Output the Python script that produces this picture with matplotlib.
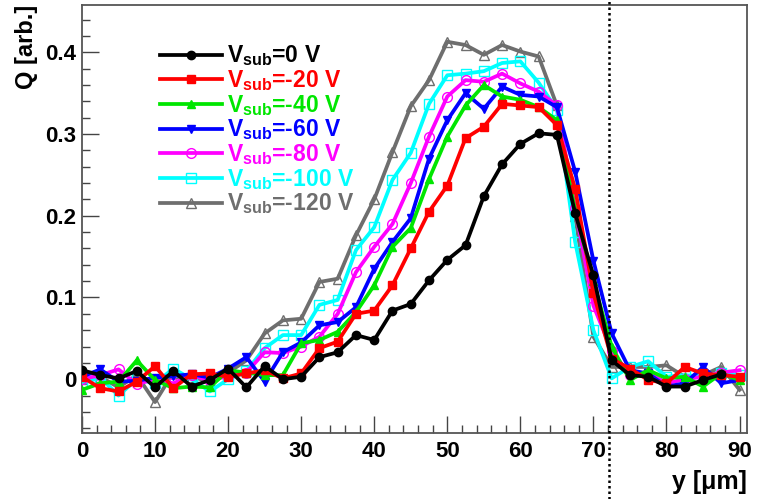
import numpy as np
import matplotlib
matplotlib.use('Agg')
import matplotlib.pyplot as plt
from matplotlib.ticker import MultipleLocator, FuncFormatter
import matplotlib.transforms as mtransforms

plt.rcParams['font.family'] = 'Liberation Sans'
plt.rcParams['font.weight'] = 'bold'
plt.rcParams['mathtext.fontset'] = 'custom'
plt.rcParams['mathtext.rm'] = 'Liberation Sans:bold'
plt.rcParams['mathtext.it'] = 'Liberation Sans:bold'
plt.rcParams['mathtext.bf'] = 'Liberation Sans:bold'
plt.rcParams['mathtext.default'] = 'rm'

# position along y [um]
pos = np.arange(0, 90.1, 2.5)

# charge for each substrate voltage
q_0 = [0.011, 0.005, 0.001, 0.010, -0.010, 0.010, -0.009, -0.001, 0.013, -0.010,
       0.016, 0.000, 0.003, 0.027, 0.033, 0.054, 0.048, 0.084, 0.092, 0.121,
       0.146, 0.164, 0.224, 0.263, 0.288, 0.301, 0.299, 0.203, 0.127, 0.023,
       0.005, 0.003, -0.009, -0.009, -0.001, 0.006, np.nan]
q_20 = [0.003, -0.011, -0.015, -0.003, 0.016, -0.011, 0.006, 0.007, 0.003, 0.007,
        0.011, 0.001, 0.007, 0.038, 0.046, 0.080, 0.084, 0.115, 0.160, 0.205,
        0.237, 0.295, 0.309, 0.337, 0.335, 0.333, 0.311, 0.233, 0.105, 0.025,
        0.013, -0.001, -0.005, 0.015, 0.007, 0.005, 0.003]
q_40 = [-0.013, -0.005, -0.003, 0.023, -0.001, -0.011, -0.009, -0.010, 0.011, 0.008,
        0.005, 0.005, 0.044, 0.048, 0.058, 0.082, 0.115, 0.162, 0.185, 0.245,
        0.297, 0.335, 0.360, 0.346, 0.342, 0.333, 0.317, 0.207, 0.120, 0.040,
        -0.001, 0.011, 0.001, 0.003, -0.009, 0.007, -0.001]
q_60 = [0.003, 0.012, -0.003, -0.002, 0.002, 0.004, 0.006, 0.002, 0.013, 0.027,
        -0.003, 0.033, 0.045, 0.066, 0.070, 0.088, 0.135, 0.168, 0.197, 0.270,
        0.317, 0.350, 0.331, 0.358, 0.348, 0.346, 0.333, 0.254, 0.145, 0.056,
        0.011, 0.007, -0.009, -0.005, 0.015, -0.005, -0.001]
q_80 = [0.000, 0.005, 0.012, -0.006, 0.000, -0.005, 0.005, -0.002, 0.004, 0.008,
        0.033, 0.032, 0.040, 0.052, 0.080, 0.131, 0.162, 0.190, 0.240, 0.297,
        0.346, 0.366, 0.364, 0.374, 0.362, 0.352, 0.335, 0.209, 0.090, 0.035,
        0.005, 0.008, -0.005, 0.000, 0.003, 0.008, 0.011]
q_100 = [-0.005, 0.002, -0.020, 0.000, -0.005, 0.013, 0.000, -0.015, 0.000, 0.010,
         0.038, 0.054, 0.054, 0.091, 0.097, 0.158, 0.186, 0.244, 0.277, 0.337,
         0.372, 0.374, 0.377, 0.387, 0.389, 0.363, 0.330, 0.168, 0.060, 0.001,
         0.015, 0.022, 0.003, 0.005, 0.003, 0.008, 0.005]
q_120 = [0.000, 0.003, -0.010, 0.005, -0.028, 0.008, 0.003, -0.003, 0.008, 0.023,
         0.056, 0.072, 0.074, 0.119, 0.123, 0.176, 0.220, 0.278, 0.334, 0.366,
         0.413, 0.409, 0.397, 0.409, 0.401, 0.395, 0.335, 0.200, 0.052, 0.015,
         0.015, 0.015, 0.017, 0.003, 0.005, 0.015, -0.013]

labels = ['0', '-20', '-40', '-60', '-80', '-100', '-120']
series = [q_0, q_20, q_40, q_60, q_80, q_100, q_120]
colors = ['black', '#ff0000', '#00e600', '#0000ff', '#ff00ff', '#00ffff', '#6e6e6e']
markers = ['o', 's', '^', 'v', 'o', 's', '^']
filled = [True, True, True, True, False, False, False]

edge_pos = 72.2

fig = plt.figure(figsize=(7.59, 4.99), dpi=100)
ax = fig.add_axes([0.108, 0.132, 0.876, 0.858])

for i, (lab, q, c, m, f) in enumerate(zip(labels, series, colors, markers, filled)):
    ax.plot(pos, q, color=c, lw=2.7, marker=m, ms=6 if f else 7,
            mfc=c if f else 'none', mec=c, mew=1.0,
            label=r'V$_{\mathrm{sub}}$=' + lab + ' V', zorder=10 - i)

ax.set_xlim(0, 91)
ax.set_ylim(-0.066, 0.458)

# dotted edge line, running past the frame
trans = mtransforms.blended_transform_factory(ax.transData, fig.transFigure)
ax.plot([edge_pos, edge_pos], [0, 1], transform=trans, color='black',
        ls=(0, (1, 1.2)), lw=1.8, clip_on=False, zorder=20)

ax.xaxis.set_major_locator(MultipleLocator(10))
ax.xaxis.set_minor_locator(MultipleLocator(2))
ax.yaxis.set_major_locator(MultipleLocator(0.1))
ax.yaxis.set_minor_locator(MultipleLocator(0.02))
ax.yaxis.set_major_formatter(FuncFormatter(lambda v, p: '0' if abs(v) < 1e-9 else '%g' % round(v, 2)))

ax.tick_params(axis='both', which='both', direction='in', top=False, right=False,
               labelsize=16, color='#444444')
ax.tick_params(axis='both', which='major', length=12, width=1)
ax.tick_params(axis='both', which='minor', length=6, width=1)
ax.tick_params(axis='x', pad=6)
ax.tick_params(axis='y', pad=4)
for s in ax.spines.values():
    s.set_color('#555555')
    s.set_linewidth(1.3)

fig.text(0.035, 0.99, 'Q [arb.]', rotation=90, ha='center', va='top', fontsize=17, fontweight='bold')
fig.text(0.984, 0.035, 'y [μm]', ha='right', va='center', fontsize=18, fontweight='bold')

leg = ax.legend(loc='upper left', bbox_to_anchor=(0.118, 0.91), frameon=False,
                fontsize=16.5, handlelength=2.7, handletextpad=0.2, labelspacing=-0.01,
                borderaxespad=0, borderpad=0)
for t, c in zip(leg.get_texts(), colors):
    t.set_color(c)

fig.savefig('out.png', dpi=100)
